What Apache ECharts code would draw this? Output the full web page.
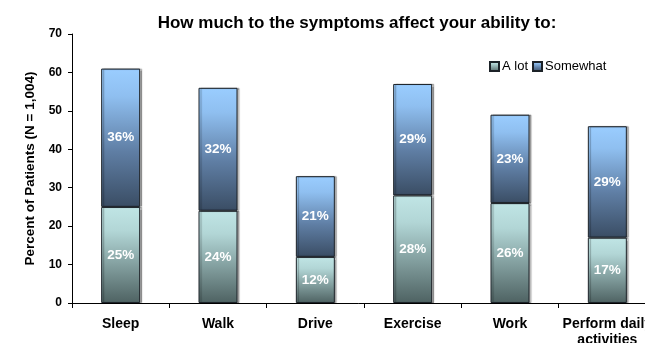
<!DOCTYPE html>
<html>
<head>
<meta charset="utf-8">
<script src="https://cdn.jsdelivr.net/npm/echarts@6/dist/echarts.min.js"></script>
<style>
  html, body { margin: 0; padding: 0; background: #fff; }
  #chart { width: 645px; height: 343px; }
</style>
</head>
<body>
<div id="chart"></div>
<script>
// Survey results: share of patients whose ability is affected by symptoms
const categories = ['Sleep', 'Walk', 'Drive', 'Exercise', 'Work', 'Perform daily\nactivities'];
const aLot = [25, 24, 12, 28, 26, 17];
const somewhat = [36, 32, 21, 29, 23, 29];
const yTicks = { min: 0, max: 70, interval: 10 };

const FONT = '"Liberation Sans", Arial, sans-serif';

function vGrad(stops) {
  return new echarts.graphic.LinearGradient(0, 0, 0, 1,
    stops.map(([offset, color]) => ({ offset, color })));
}

const aLotFill = vGrad([[0, '#c0e5e5'], [0.25, '#b2d6d6'], [1, '#4e6262']]);
const somewhatFill = vGrad([[0, '#9acdff'], [0.2, '#8fbff0'], [0.6, '#5f7ea4'], [1, '#3a4d64']]);

const barStyle = fill => ({
  color: fill,
  borderColor: '#1c2228',
  borderWidth: 1,
  shadowColor: 'rgba(0, 0, 0, 0.3)',
  shadowOffsetX: 2,
  shadowOffsetY: 0,
  shadowBlur: 1
});

const labelStyle = {
  show: true,
  position: 'inside',
  color: '#ffffff',
  fontFamily: FONT,
  fontWeight: 'bold',
  fontSize: 13.5,
  formatter: p => p.value + '%'
};

const chart = echarts.init(document.getElementById('chart'), null, { renderer: 'canvas' });
chart.setOption({
  animation: false,
  backgroundColor: '#ffffff',
  title: {
    text: 'How much to the symptoms affect your ability to:',
    left: 352,
    top: 10,
    textAlign: 'center',
    textStyle: { fontFamily: FONT, fontWeight: 'bold', fontSize: 17, color: '#000' }
  },
  legend: {
    left: 484,
    top: 55,
    itemWidth: 9,
    itemHeight: 9,
    itemGap: 4,
    icon: 'rect',
    textStyle: { fontFamily: FONT, fontSize: 13, color: '#000', padding: [0, 0, 0, -2] },
    data: ['A lot', 'Somewhat']
  },
  grid: {
    left: 72, top: 34, width: 584, height: 269,
    containLabel: false,
    outerBoundsMode: 'none'
  },
  xAxis: {
    type: 'category',
    data: categories,
    axisLine: { lineStyle: { color: '#000', width: 1 } },
    axisTick: { show: true, length: 5, lineStyle: { color: '#000' } },
    axisLabel: {
      color: '#000', fontFamily: FONT, fontWeight: 'bold', fontSize: 14,
      margin: 13, lineHeight: 16, interval: 0
    }
  },
  yAxis: {
    type: 'value',
    min: yTicks.min,
    max: yTicks.max,
    interval: yTicks.interval,
    name: 'Percent of Patients (N = 1,004)',
    nameLocation: 'middle',
    nameGap: 31,
    nameTextStyle: { fontFamily: FONT, fontWeight: 'bold', fontSize: 13.5, color: '#000' },
    axisLine: { show: true, lineStyle: { color: '#000', width: 1 } },
    axisTick: { show: true, length: 4, lineStyle: { color: '#000' } },
    splitLine: { show: false },
    axisLabel: { color: '#000', fontFamily: FONT, fontWeight: 'bold', fontSize: 12, margin: 10 }
  },
  series: [
    {
      name: 'A lot',
      type: 'bar',
      stack: 'total',
      barWidth: 39,
      data: aLot,
      itemStyle: barStyle(aLotFill),
      label: labelStyle
    },
    {
      name: 'Somewhat',
      type: 'bar',
      stack: 'total',
      barWidth: 39,
      data: somewhat,
      itemStyle: barStyle(somewhatFill),
      label: labelStyle
    }
  ]
});
</script>
</body>
</html>
